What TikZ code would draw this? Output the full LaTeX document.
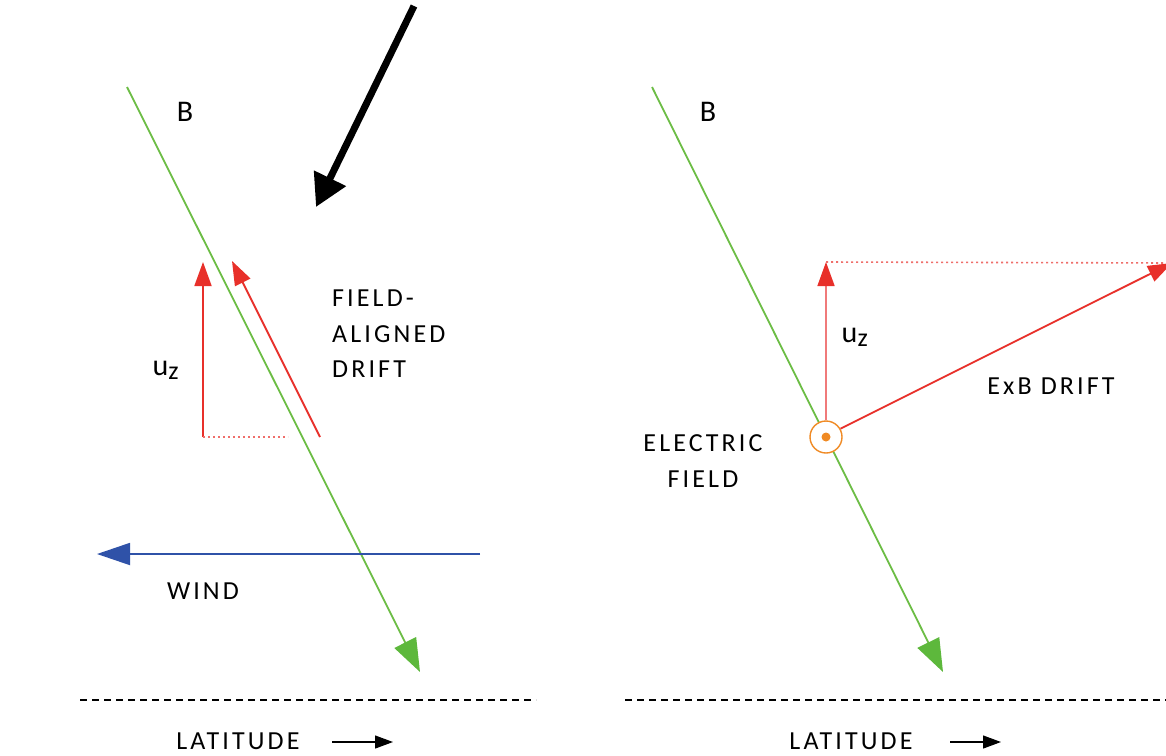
\documentclass[tikz,border=0pt]{standalone}
\usepackage{fontspec}
\setmainfont{Carlito}
\newfontfamily\spaced[LetterSpace=12]{Carlito}
\usetikzlibrary{arrows.meta}
\definecolor{bgreen}{HTML}{6CBD45}
\definecolor{hgreen}{HTML}{5DB83C}
\definecolor{vred}{HTML}{E8302A}
\definecolor{pred}{HTML}{F07A7A}
\definecolor{wblue}{HTML}{2F52A8}
\definecolor{eorange}{HTML}{F08A24}
\begin{document}
\begin{tikzpicture}[x=1pt,y=-1pt,
  lbl/.style={font=\spaced\fontsize{26}{35.5}\selectfont, inner sep=0pt, text=black},
  sym/.style={font=\fontsize{30}{32}\selectfont, inner sep=0pt, text=black},
  fieldline/.style={bgreen, line width=1.8pt, -{Triangle[length=33pt,width=24pt,fill=hgreen,color=hgreen]}},
  redvec/.style={vred, line width=1.8pt, -{Triangle[length=24pt,width=17pt]}},
  lightvec/.style={pred, line width=1.6pt, -{Triangle[length=24pt,width=17pt,color=vred,fill=vred]}},
  helper/.style={vred!70, line width=1.6pt, dash pattern=on 2pt off 3pt},
  horizon/.style={black, line width=1.4pt, dash pattern=on 7pt off 5pt},
  windvec/.style={wblue, line width=1.8pt, -{Triangle[length=33pt,width=22pt]}},
  bigarrow/.style={black, line width=7pt, -{Triangle[length=32pt,width=34pt]}},
  latarrow/.style={black, line width=1.2pt, -{Triangle[length=18pt,width=13pt]}}]
\useasboundingbox (0,0) rectangle (1166,755);
\clip (0,0) rectangle (1166,755);
\fill[white] (0,0) rectangle (1166,755);

% ---------- left panel ----------
\coordinate (LBs) at (127,87);
\coordinate (LBe) at (420,672);
\draw[fieldline] (LBs) -- (LBe);
\node[sym] (LB) at (185,112) {B};

\coordinate (Ks) at (414,6);
\coordinate (Ke) at (316,207);
\draw[bigarrow] (Ks) -- (Ke);

\coordinate (Lo) at (203,437);
\coordinate (Luz) at (203,262);
\coordinate (Lfs) at (320,437);
\coordinate (Lfe) at (232,261);
\coordinate (Ldot) at (288,437);
\draw[redvec] (Lo) -- (Luz);
\draw[redvec] (Lfs) -- (Lfe);
\draw[helper] (Lo) -- (Ldot);
\node[sym] (Luzl) at (166,370) {u\textsubscript{\fontsize{26}{26}\selectfont z}};

\node[lbl, align=left, anchor=north west] (FAD) at (332,290) {FIELD-\\ALIGNED\\DRIFT};

\coordinate (Ws) at (480,554);
\coordinate (We) at (97,554);
\draw[windvec] (Ws) -- (We);
\node[lbl] (W) at (203,591) {WIND};

\coordinate (Lh1) at (80,700);
\coordinate (Lh2) at (536,700);
\draw[horizon] (Lh1) -- (Lh2);
\node[lbl] (Llat) at (238,741) {LATITUDE};
\coordinate (La1) at (332,742);
\coordinate (La2) at (393,742);
\draw[latarrow] (La1) -- (La2);

% ---------- right panel ----------
\coordinate (RBs) at (652,87);
\coordinate (RBe) at (943,672);
\draw[fieldline] (RBs) -- (RBe);
\node[sym] (RB) at (708,112) {B};

\node[circle, draw=eorange, fill=white, line width=1.4pt, minimum size=32pt, inner sep=0pt] (E) at (826,437) {};
\fill[eorange] (E.center) circle (4.5pt);

\coordinate (Ruz) at (826,262);
\coordinate (Rdot) at (1170,263);
\coordinate (Rx) at (1172,263);
\draw[lightvec] (E.north) -- (Ruz);
\draw[helper] (Ruz) -- (Rdot);
\draw[redvec] (E.30) -- (Rx);
\node[sym] (Ruzl) at (855,337) {u\textsubscript{\fontsize{26}{26}\selectfont z}};
\node[lbl] (ExB) at (1051,386) {ExB DRIFT};
\node[lbl, align=center] (EF) at (703,461) {ELECTRIC\\FIELD};

\coordinate (Rh1) at (625,700);
\coordinate (Rh2) at (1170,700);
\draw[horizon] (Rh1) -- (Rh2);
\node[lbl] (Rlat) at (851,741) {LATITUDE};
\coordinate (Ra1) at (950,742);
\coordinate (Ra2) at (1001,742);
\draw[latarrow] (Ra1) -- (Ra2);
\end{tikzpicture}
\end{document}
